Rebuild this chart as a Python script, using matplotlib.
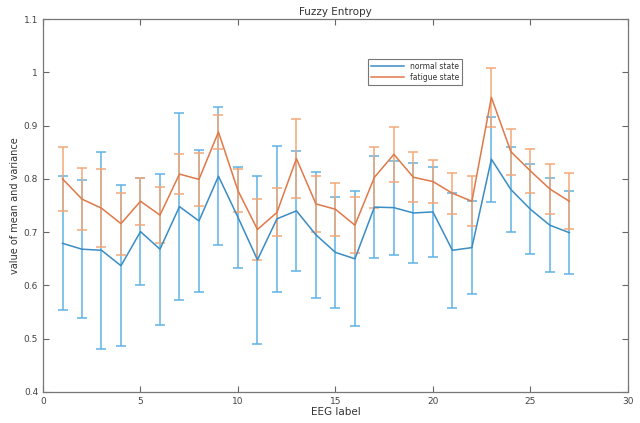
import matplotlib

matplotlib.use('Agg')
import matplotlib.pyplot as plt
import numpy as np

# EEG channel labels 1..27
eeg_label = list(range(1, 28))

# normal state: mean and error
normal_mean = [0.679, 0.668, 0.666, 0.637, 0.701, 0.668, 0.748, 0.721, 0.805, 0.728,
               0.648, 0.725, 0.740, 0.695, 0.662, 0.650, 0.747, 0.746, 0.736, 0.738,
               0.666, 0.671, 0.837, 0.780, 0.743, 0.713, 0.699]
normal_err = [0.126, 0.130, 0.185, 0.151, 0.100, 0.142, 0.175, 0.133, 0.130, 0.095,
              0.157, 0.137, 0.113, 0.118, 0.104, 0.127, 0.096, 0.088, 0.094, 0.085,
              0.108, 0.087, 0.080, 0.080, 0.084, 0.088, 0.078]

# fatigue state: mean and error
fatigue_mean = [0.800, 0.762, 0.745, 0.716, 0.758, 0.732, 0.809, 0.799, 0.888, 0.778,
                0.705, 0.737, 0.838, 0.753, 0.743, 0.713, 0.803, 0.846, 0.803, 0.795,
                0.773, 0.758, 0.953, 0.851, 0.815, 0.781, 0.758]
fatigue_err = [0.060, 0.058, 0.073, 0.058, 0.044, 0.053, 0.037, 0.050, 0.031, 0.040,
               0.057, 0.045, 0.074, 0.052, 0.050, 0.053, 0.057, 0.052, 0.047, 0.041,
               0.038, 0.047, 0.056, 0.043, 0.042, 0.046, 0.053]

fig = plt.figure(figsize=(6.4, 4.23), dpi=100, facecolor='white')
ax = fig.add_axes([0.0672, 0.0733, 0.9138, 0.8817])

# error bars drawn lighter, lines on top darker (like the scanned MATLAB figure)
ax.errorbar(eeg_label, normal_mean, yerr=normal_err, fmt='none', ecolor='#5fb3e6',
            elinewidth=1.1, capsize=3.8, capthick=1.1)
ax.errorbar(eeg_label, fatigue_mean, yerr=fatigue_err, fmt='none', ecolor='#f2a878',
            elinewidth=1.1, capsize=3.8, capthick=1.1)
ax.plot(eeg_label, normal_mean, color='#3a8cc4', linewidth=1.1, label='normal state')
ax.plot(eeg_label, fatigue_mean, color='#e07848', linewidth=1.1, label='fatigue state')

ax.set_xlim(0, 30)
ax.set_ylim(0.4, 1.1)
ax.set_xticks(np.arange(0, 31, 5))
ax.set_yticks([0.4, 0.5, 0.6, 0.7, 0.8, 0.9, 1.0, 1.1])
ax.set_yticklabels(['0.4', '0.5', '0.6', '0.7', '0.8', '0.9', '1', '1.1'])

ax.tick_params(direction='in', top=True, right=True, length=4, width=0.8,
               colors='#666666', labelsize=6.5, labelcolor='#444444')
for spine in ax.spines.values():
    spine.set_color('#777777')
    spine.set_linewidth(0.9)

ax.set_title('Fuzzy Entropy', fontsize=7.5, color='#333333', pad=3)
ax.set_xlabel('EEG label', fontsize=7.5, color='#333333', labelpad=1)
ax.set_ylabel('value of mean and variance', fontsize=7, color='#333333', labelpad=3)

legend = ax.legend(loc='upper left', bbox_to_anchor=(0.556, 0.893), fontsize=5.5,
                   frameon=True, fancybox=False, edgecolor='#555555',
                   handlelength=4.3, borderpad=0.4, labelspacing=0.25,
                   borderaxespad=0)
legend.get_frame().set_linewidth(0.8)
plt.setp(legend.get_texts(), color='#333333')

fig.savefig('out.png', dpi=100)
plt.close(fig)
